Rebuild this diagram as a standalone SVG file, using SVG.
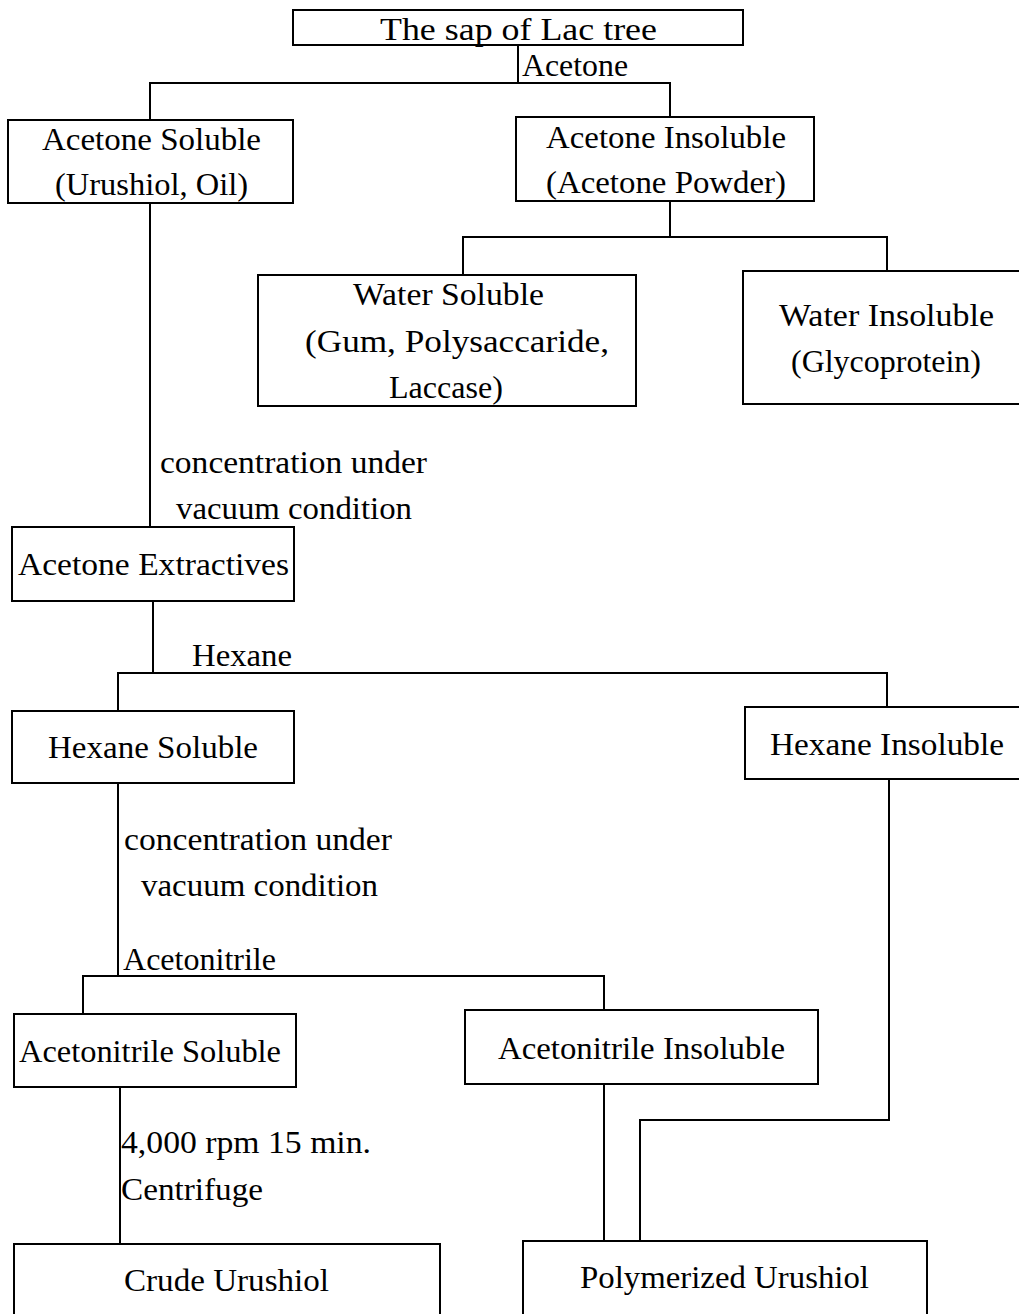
<svg xmlns="http://www.w3.org/2000/svg" width="1019" height="1314" viewBox="0 0 1019 1314">
  <style>
    .box { fill: #fff; stroke: #000; stroke-width: 2; }
    .wire { fill: none; stroke: #000; stroke-width: 2; }
    text { font-family: "Liberation Serif", "Times New Roman", serif; font-size: 31px; fill: #000; }
  </style>
  <rect width="1019" height="1314" fill="#fff"/>

  <g id="connectors">
    <path class="wire" d="M518 45 V83 M150 120 V83 H670 V118"/>
    <path class="wire" d="M670 201 V237 M463 275 V237 H887 V271"/>
    <path class="wire" d="M150 203 V527"/>
    <path class="wire" d="M153 601 V673 M118 711 V673 H887 V707"/>
    <path class="wire" d="M118 783 V976 M83 1014 V976 H604 V1010"/>
    <path class="wire" d="M120 1087 V1244"/>
    <path class="wire" d="M604 1084 V1241"/>
    <path class="wire" d="M889 779 V1120 H640 V1241"/>
    <text x="522" y="76" textLength="106" lengthAdjust="spacingAndGlyphs">Acetone</text>
    <text x="160" y="473" textLength="267" lengthAdjust="spacingAndGlyphs">concentration under</text>
    <text x="176" y="519" textLength="236" lengthAdjust="spacingAndGlyphs">vacuum condition</text>
    <text x="192" y="666" textLength="100" lengthAdjust="spacingAndGlyphs">Hexane</text>
    <text x="124" y="850" textLength="268" lengthAdjust="spacingAndGlyphs">concentration under</text>
    <text x="141" y="896" textLength="237" lengthAdjust="spacingAndGlyphs">vacuum condition</text>
    <text x="123" y="970" textLength="153" lengthAdjust="spacingAndGlyphs">Acetonitrile</text>
    <text x="121" y="1153" textLength="250" lengthAdjust="spacingAndGlyphs">4,000 rpm 15 min.</text>
    <text x="121" y="1200" textLength="142" lengthAdjust="spacingAndGlyphs">Centrifuge</text>
  </g>

  <g id="sap">
    <rect class="box" x="293" y="10" width="450" height="35"/>
    <text x="380" y="40" textLength="277" lengthAdjust="spacingAndGlyphs">The sap of Lac tree</text>
  </g>
  <g id="acetone-soluble">
    <rect class="box" x="8" y="120" width="285" height="83"/>
    <text x="42" y="150" textLength="219" lengthAdjust="spacingAndGlyphs">Acetone Soluble</text>
    <text x="55" y="195" textLength="193" lengthAdjust="spacingAndGlyphs">(Urushiol, Oil)</text>
  </g>
  <g id="acetone-insoluble">
    <rect class="box" x="516" y="117" width="298" height="84"/>
    <text x="546" y="148" textLength="240" lengthAdjust="spacingAndGlyphs">Acetone Insoluble</text>
    <text x="546" y="193" textLength="240" lengthAdjust="spacingAndGlyphs">(Acetone Powder)</text>
  </g>
  <g id="water-soluble">
    <rect class="box" x="258" y="275" width="378" height="131"/>
    <text x="353" y="305" textLength="191" lengthAdjust="spacingAndGlyphs">Water Soluble</text>
    <text x="305" y="352" textLength="304" lengthAdjust="spacingAndGlyphs">(Gum, Polysaccaride,</text>
    <text x="389" y="398" textLength="114" lengthAdjust="spacingAndGlyphs">Laccase)</text>
  </g>
  <g id="water-insoluble">
    <rect class="box" x="743" y="271" width="280" height="133"/>
    <text x="779" y="326" textLength="215" lengthAdjust="spacingAndGlyphs">Water Insoluble</text>
    <text x="791" y="372" textLength="190" lengthAdjust="spacingAndGlyphs">(Glycoprotein)</text>
  </g>
  <g id="acetone-extractives">
    <rect class="box" x="12" y="527" width="282" height="74"/>
    <text x="18" y="575" textLength="271" lengthAdjust="spacingAndGlyphs">Acetone Extractives</text>
  </g>
  <g id="hexane-soluble">
    <rect class="box" x="12" y="711" width="282" height="72"/>
    <text x="48" y="758" textLength="210" lengthAdjust="spacingAndGlyphs">Hexane Soluble</text>
  </g>
  <g id="hexane-insoluble">
    <rect class="box" x="745" y="707" width="278" height="72"/>
    <text x="770" y="755" textLength="234" lengthAdjust="spacingAndGlyphs">Hexane Insoluble</text>
  </g>
  <g id="acetonitrile-soluble">
    <rect class="box" x="14" y="1014" width="282" height="73"/>
    <text x="19" y="1062" textLength="262" lengthAdjust="spacingAndGlyphs">Acetonitrile Soluble</text>
  </g>
  <g id="acetonitrile-insoluble">
    <rect class="box" x="465" y="1010" width="353" height="74"/>
    <text x="498" y="1059" textLength="287" lengthAdjust="spacingAndGlyphs">Acetonitrile Insoluble</text>
  </g>
  <g id="crude-urushiol">
    <rect class="box" x="14" y="1244" width="426" height="80"/>
    <text x="124" y="1291" textLength="205" lengthAdjust="spacingAndGlyphs">Crude Urushiol</text>
  </g>
  <g id="polymerized-urushiol">
    <rect class="box" x="523" y="1241" width="404" height="83"/>
    <text x="580" y="1288" textLength="289" lengthAdjust="spacingAndGlyphs">Polymerized Urushiol</text>
  </g>
</svg>
